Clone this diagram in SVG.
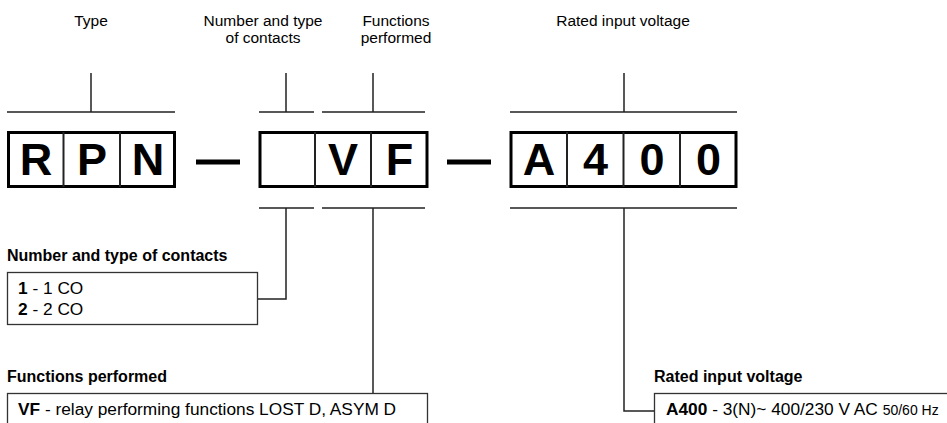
<svg xmlns="http://www.w3.org/2000/svg" width="947" height="423" viewBox="0 0 947 423">
<style>
.t{font-family:"Liberation Sans",Arial,sans-serif;font-size:15.5px;fill:#000}
.h{font-size:16px;font-weight:bold}
.v{font-size:17.3px}
.c{text-anchor:middle}
.b{font-weight:bold}
.big{font-family:"Liberation Sans",Arial,sans-serif;font-size:45px;font-weight:bold;text-anchor:middle;fill:#000}
.frame{fill:#fff;stroke:#000;stroke-width:3}
.div{stroke:#222;stroke-width:2}
.ln{fill:none;stroke:#222;stroke-width:1.5}
.box{fill:#fff;stroke:#333;stroke-width:1.3}
.dash{fill:#000}
</style>
<rect width="947" height="423" fill="#fff"/>
<g id="headers">
<text class="t c" x="91" y="26">Type</text>
<text class="t c" x="263" y="26">Number and type</text>
<text class="t c" x="263" y="43">of contacts</text>
<text class="t c" x="396" y="26">Functions</text>
<text class="t c" x="396" y="43">performed</text>
<text class="t c" x="623" y="26">Rated input voltage</text>
</g>
<g id="code-type">
<rect class="frame" x="8.5" y="132.5" width="166" height="54"/>
<line class="div" x1="63.5" y1="132" x2="63.5" y2="187"/>
<line class="div" x1="120" y1="132" x2="120" y2="187"/>
<text class="big" x="36" y="175">R</text>
<text class="big" x="92" y="175">P</text>
<text class="big" x="148" y="175">N</text>
</g>
<rect class="dash" x="196" y="159.5" width="44" height="5"/>
<g id="code-contacts-functions">
<rect class="frame" x="260" y="132.5" width="167" height="54"/>
<line class="div" x1="315" y1="132" x2="315" y2="187"/>
<line class="div" x1="371" y1="132" x2="371" y2="187"/>
<text class="big" x="343" y="175">V</text>
<text class="big" x="399.5" y="175">F</text>
</g>
<rect class="dash" x="447" y="159.5" width="44" height="5"/>
<g id="code-voltage">
<rect class="frame" x="511" y="132.5" width="225" height="54"/>
<line class="div" x1="567" y1="132" x2="567" y2="187"/>
<line class="div" x1="623.5" y1="132" x2="623.5" y2="187"/>
<line class="div" x1="680" y1="132" x2="680" y2="187"/>
<text class="big" x="539" y="175">A</text>
<text class="big" x="595.5" y="175">4</text>
<text class="big" x="652" y="175">0</text>
<text class="big" x="708.5" y="175">0</text>
</g>
<g id="contacts-box">
<text class="t h" x="7" y="261">Number and type of contacts</text>
<rect class="box" x="7.5" y="272.5" width="250" height="52"/>
<text class="t v" x="18" y="294"><tspan class="b">1</tspan> - 1 CO</text>
<text class="t v" x="18" y="315"><tspan class="b">2</tspan> - 2 CO</text>
</g>
<g id="functions-box">
<text class="t h" x="7" y="382">Functions performed</text>
<rect class="box" x="7.5" y="393.5" width="420" height="40"/>
<text class="t v" x="18" y="415"><tspan class="b">VF</tspan> - relay performing functions LOST D, ASYM D</text>
</g>
<g id="voltage-box">
<text class="t h" x="654" y="382">Rated input voltage</text>
<rect class="box" x="654.5" y="393.5" width="300" height="40"/>
<text class="t v" x="666" y="415"><tspan class="b">A400</tspan> - 3(N)~ 400/230 V AC <tspan font-size="14">50/60 Hz</tspan></text>
</g>
<g id="connectors">
<path class="ln" d="M7 112H175M91 73V112"/>
<path class="ln" d="M259 112H314M286 73V112"/>
<path class="ln" d="M322 112H425M373 73V112"/>
<path class="ln" d="M510 112H737M624 73V112"/>
<path class="ln" d="M259 208H314M322 208H425M510 208H737"/>
<path class="ln" d="M286 208V299H258"/>
<path class="ln" d="M373 208V393"/>
<path class="ln" d="M624 208V411H654"/>
</g>
</svg>
